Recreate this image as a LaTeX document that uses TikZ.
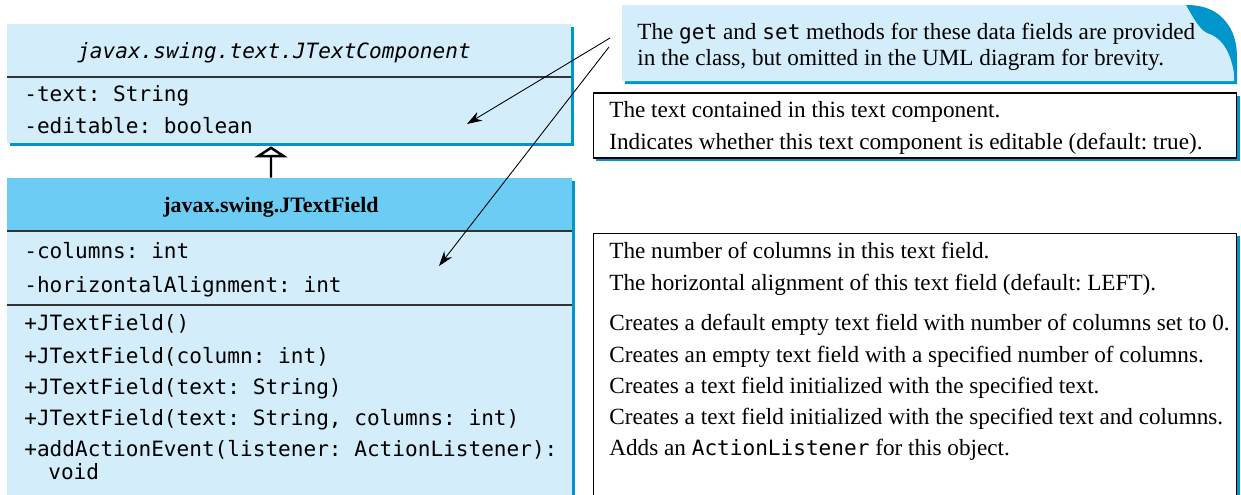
\documentclass[tikz,border=0pt]{standalone}
\usepackage{fontspec}
\setmainfont{Liberation Serif}
\newfontfamily\codefont{DejaVu Sans Mono}
\usetikzlibrary{arrows.meta,shadows}
\definecolor{umlfill}{RGB}{212,237,251}
\definecolor{umlhead}{RGB}{108,204,244}
\definecolor{umlshade}{RGB}{0,150,204}
\newcommand{\code}[1]{{\codefont\fontsize{12}{14}\selectfont #1}}
\frenchspacing
\tikzset{
  bluedrop/.style={drop shadow={fill=umlshade, opacity=1, shadow xshift=0.06cm, shadow yshift=-0.06cm}},
  umlbox/.style={fill=umlfill, inner sep=0pt, bluedrop},
  descbox/.style={fill=white, draw=black, line width=0.6pt, inner sep=0pt, bluedrop},
  member/.style={anchor=base west, inner sep=0pt, font=\codefont\fontsize{12}{14}\selectfont},
  remark/.style={anchor=base west, inner sep=0pt, font=\fontsize{13.2}{15}\selectfont},
  sepline/.style={line width=0.8pt, draw=black!80},
  notearrow/.style={-{Stealth[length=0.3cm, width=0.2cm]}, line width=0.5pt},
  inherit/.style={-{Triangle[open, length=0.22cm, width=0.66cm]}, line width=1.4pt}
}

\begin{document}
\begin{tikzpicture}[x=0.02cm, y=-0.02cm]
\clip (0,0) rectangle (1241,494);

% The two class boxes
\node[umlbox, minimum width=11.28cm, minimum height=2.38cm] (comp) at (289,83.5) {};
\node[umlbox, minimum width=11.3cm, minimum height=6.84cm] (field) at (289.5,349) {};
\fill[umlhead] (field.north west) rectangle (field.east |- 0,231);
\draw[sepline] (comp.west |- 0,77) -- (comp.east |- 0,77);
\draw[sepline] (field.west |- 0,231) -- (field.east |- 0,231);
\draw[sepline] (field.west |- 0,305) -- (field.east |- 0,305);

% Class names
\node[anchor=base, inner sep=0pt, font=\codefont\itshape\fontsize{12}{14}\selectfont] (compname) at (274,58) {javax.swing.text.JTextComponent};
\node[anchor=base, inner sep=0pt, font=\bfseries\fontsize{12.5}{15}\selectfont] (fieldname) at (271,212) {javax.swing.JTextField};

% Data fields and methods
\node[member] (text) at (24,101) {-text: String};
\node[member] (editable) at (24,133) {-editable: boolean};
\node[member] (columns) at (24,258) {-columns: int};
\node[member] (align) at (24,292) {-horizontalAlignment: int};
\node[member] (ctor1) at (24,330) {+JTextField()};
\node[member] (ctor2) at (24,363) {+JTextField(column: int)};
\node[member] (ctor3) at (24,394) {+JTextField(text: String)};
\node[member] (ctor4) at (24,425) {+JTextField(text: String, columns: int)};
\node[member] (addev) at (24,456) {+addActionEvent(listener: ActionListener):};
\node[member] (addevret) at (48,479) {void};

% Inheritance
\draw[inherit] ([xshift=-0.37cm]field.north) -- ([xshift=-0.36cm, yshift=-0.06cm]comp.south);

% Note with the folded corner
\path[fill=umlfill, bluedrop] (622,5) -- (1186,5) .. controls (1220,5) and (1234,25) .. (1234,55) -- (1234,81) -- (622,81) -- cycle;
\fill[umlshade] (1186,5) .. controls (1220,5) and (1235,25) .. (1235,55) -- (1235,80) .. controls (1232,55) and (1224,38) .. (1207,33) .. controls (1198,28) and (1192,15) .. (1186,5) -- cycle;
\node[remark] (note1) at (637,39) {The \code{get} and \code{set} methods for these data fields are provided};
\node[remark] (note2) at (637,65) {in the class, but omitted in the UML diagram for brevity.};

% Note arrows
\coordinate (n1) at (610,38);
\coordinate (n2) at (609,47);
\coordinate (t1) at (467,124);
\coordinate (t2) at (439,266);
\draw[notearrow] (n1) -- (t1);
\draw[notearrow] (n2) -- (t2);

% Description boxes
\node[descbox, minimum width=12.88cm, minimum height=1.3cm] (desc1) at (915,125.5) {};
\node[descbox, minimum width=12.88cm, minimum height=5.74cm] (desc2) at (915,376.5) {};
\node[remark] (d1) at (609,117) {The text contained in this text component.};
\node[remark] (d2) at (609,149) {Indicates whether this text component is editable (default: true).};
\node[remark] (d3) at (609,258) {The number of columns in this text field.};
\node[remark] (d4) at (609,290) {The horizontal alignment of this text field (default: LEFT).};
\node[remark] (d5) at (609,330) {Creates a default empty text field with number of columns set to 0.};
\node[remark] (d6) at (609,362) {Creates an empty text field with a specified number of columns.};
\node[remark] (d7) at (609,393) {Creates a text field initialized with the specified text.};
\node[remark] (d8) at (609,424) {Creates a text field initialized with the specified text and columns.};
\node[remark] (d9) at (609,455) {Adds an \code{ActionListener} for this object.};
\end{tikzpicture}
\end{document}
